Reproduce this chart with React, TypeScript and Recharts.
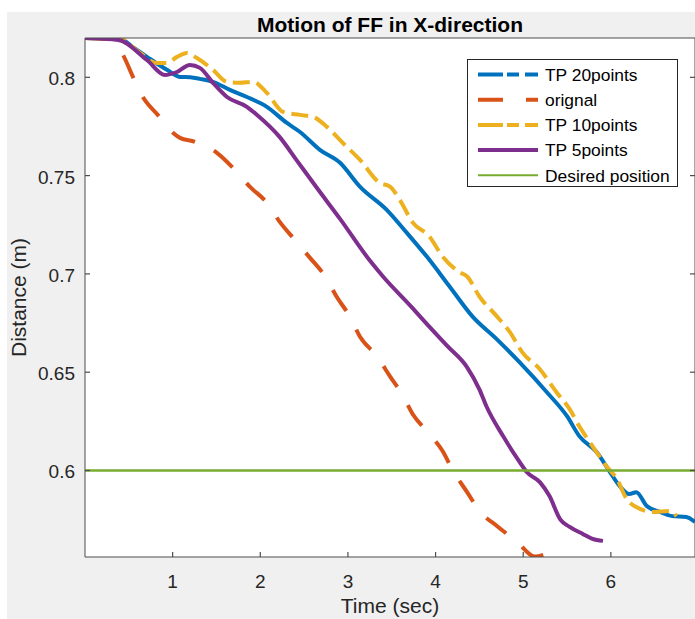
import React from "react";
import { Legend, Line, LineChart, ReferenceLine, XAxis, YAxis } from "recharts";

// time (sec), distance (m)
const tp20points = [
  [0, 0.82], [0.2, 0.8198], [0.4, 0.8195], [0.55, 0.8152], [0.707, 0.8104],
  [0.935, 0.8038], [1.083, 0.8002], [1.2, 0.8], [1.311, 0.7992], [1.46, 0.7977],
  [1.653, 0.7936], [1.847, 0.79], [2.075, 0.785], [2.3, 0.7769], [2.45, 0.7723],
  [2.68, 0.7631], [2.91, 0.7565], [3.136, 0.7444], [3.44, 0.7327], [3.67, 0.721],
  [3.9, 0.7088], [4.16, 0.6936], [4.42, 0.6784], [4.7, 0.6667], [4.96, 0.655],
  [5.27, 0.6398], [5.5, 0.6276], [5.64, 0.6175], [5.84, 0.6093], [5.99, 0.5992],
  [6.1, 0.5921], [6.21, 0.588], [6.29, 0.589], [6.41, 0.5819], [6.56, 0.5789],
  [6.7, 0.5768], [6.86, 0.5763], [6.96, 0.5738],
];

const orignal = [
  [0, 0.82], [0.26, 0.8195], [0.433, 0.8114], [0.547, 0.8002], [0.66, 0.79],
  [0.83, 0.7809], [1.003, 0.7718], [1.083, 0.7692], [1.254, 0.7672], [1.505, 0.7616],
  [1.688, 0.754], [1.88, 0.7444], [2.075, 0.7362], [2.22, 0.7266], [2.39, 0.7175],
  [2.565, 0.7083], [2.74, 0.6987], [2.87, 0.6885], [3.02, 0.6784], [3.136, 0.6682],
  [3.33, 0.6581], [3.48, 0.6479], [3.63, 0.6378], [3.74, 0.6286], [3.91, 0.6195],
  [4.08, 0.6099], [4.2, 0.5997], [4.36, 0.589], [4.5, 0.5794], [4.7, 0.5718],
  [4.93, 0.5637], [5.13, 0.5563], [5.28, 0.5579],
];

const tp10points = [
  [0, 0.82], [0.4, 0.8195], [0.627, 0.8124], [0.82, 0.8073], [0.935, 0.8073],
  [1.05, 0.8104], [1.163, 0.8124], [1.277, 0.8098], [1.46, 0.8038], [1.62, 0.7977],
  [1.767, 0.7972], [1.916, 0.7977], [2.075, 0.7921], [2.26, 0.7824], [2.45, 0.7809],
  [2.6, 0.7799], [2.76, 0.7748], [2.94, 0.7667], [3.136, 0.7581], [3.36, 0.7464],
  [3.48, 0.7444], [3.59, 0.7378], [3.74, 0.7261], [3.93, 0.719], [4.08, 0.7088],
  [4.28, 0.7007], [4.36, 0.6987], [4.5, 0.6885], [4.7, 0.6784], [4.85, 0.6703],
  [4.99, 0.6601], [5.19, 0.6515], [5.38, 0.6398], [5.53, 0.6312], [5.64, 0.6225],
  [5.79, 0.6124], [5.95, 0.6022], [6.07, 0.5956], [6.18, 0.5855], [6.29, 0.5814],
  [6.48, 0.5789], [6.67, 0.5794], [6.75, 0.5768],
];

const tp5points = [
  [0, 0.82], [0.38, 0.819], [0.707, 0.8088], [0.912, 0.8012], [1.049, 0.8027],
  [1.197, 0.8063], [1.311, 0.8048], [1.46, 0.7972], [1.62, 0.79], [1.847, 0.785],
  [1.96, 0.781], [2.22, 0.7697], [2.42, 0.7575], [2.645, 0.7438], [2.91, 0.728],
  [3.25, 0.7068], [3.4, 0.6987], [3.74, 0.6825], [3.85, 0.677], [4.13, 0.6635],
  [4.36, 0.6525], [4.5, 0.6413], [4.58, 0.6327], [4.77, 0.6175], [4.96, 0.6043],
  [5.04, 0.5992], [5.19, 0.5941], [5.3, 0.587], [5.42, 0.5753], [5.53, 0.5713],
  [5.68, 0.5677], [5.79, 0.5652], [5.91, 0.5642],
];

const DESIRED = 0.6;
const X_TICKS = [1, 2, 3, 4, 5, 6];
const Y_TICKS = [0.6, 0.65, 0.7, 0.75, 0.8];
const X_DOMAIN = [0, 6.96];
const Y_DOMAIN = [0.556, 0.82];

const toRows = (pts) => pts.map(([t, d]) => ({ t, d }));

const SERIES = [
  { name: "TP 20points", pts: tp20points, color: "#0072BD", dash: undefined, legendDash: "25 4 12 6 13" },
  { name: "orignal", pts: orignal, color: "#D95319", dash: "25 21", legendDash: "25 23 12" },
  { name: "TP 10points", pts: tp10points, color: "#EDB120", dash: "17 7", legendDash: "25 4 12 6 13" },
  { name: "TP 5points", pts: tp5points, color: "#7E2F8E", dash: undefined, legendDash: undefined },
];

const LEGEND_ITEMS = [
  ...SERIES.map((s) => ({ name: s.name, color: s.color, dash: s.legendDash, width: 4 })),
  { name: "Desired position", color: "#77AC30", dash: undefined, width: 2 },
];

const FONT = "'Liberation Sans', Arial, Helvetica, sans-serif";
const AXIS = "#4d4d4d";
const TEXT = "#262626";
const TICK_LEN = 5;
const X_GAP = 17.5;
const Y_GAP = 10;

// MATLAB-style ticks point into the plot box
const BottomTick = ({ x, y, payload }) => (
  <g>
    <path d={`M${x},${y - X_GAP}V${y - X_GAP - TICK_LEN}`} stroke={AXIS} strokeWidth={1.2} fill="none" />
    <text x={x} y={y} dy="0.71em" textAnchor="middle" fontSize={19} fill={TEXT}>
      {payload.value}
    </text>
  </g>
);

const LeftTick = ({ x, y, payload }) => (
  <g>
    <path d={`M${x + Y_GAP},${y}H${x + Y_GAP + TICK_LEN}`} stroke={AXIS} strokeWidth={1.2} fill="none" />
    <text x={x} y={y} dy="0.42em" textAnchor="end" fontSize={19} fill={TEXT}>
      {payload.value}
    </text>
  </g>
);

const TopTick = ({ x, y }) => (
  <path d={`M${x},${y}V${y + TICK_LEN}`} stroke={AXIS} strokeWidth={1.2} fill="none" />
);

const RightTick = ({ x, y }) => (
  <path d={`M${x},${y}H${x - TICK_LEN}`} stroke={AXIS} strokeWidth={1.2} fill="none" />
);

const LegendBox = () => (
  <div
    style={{
      width: 211,
      height: 128,
      background: "#fff",
      border: "1px solid #262626",
      boxSizing: "border-box",
    }}
  >
    <svg width={209} height={126} style={{ display: "block" }}>
      {LEGEND_ITEMS.map((it, i) => {
        const y = 14.5 + i * 25.2;
        return (
          <g key={it.name}>
            <line x1={10} x2={70} y1={y} y2={y} stroke={it.color} strokeWidth={it.width} strokeDasharray={it.dash} />
            <text x={77} y={y} dy="0.36em" fontSize={17.4} fill="#000">
              {it.name}
            </text>
          </g>
        );
      })}
    </svg>
  </div>
);

const XTitle = ({ viewBox }) => (
  <text x={viewBox.x + viewBox.width / 2} y={viewBox.y + 56} textAnchor="middle" fontSize={21} fill={TEXT}>
    Time (sec)
  </text>
);

const YTitle = ({ viewBox }) => {
  const cx = viewBox.x + 18;
  const cy = viewBox.y + viewBox.height / 2;
  return (
    <text
      x={cx}
      y={cy}
      dy="0.36em"
      transform={`rotate(-90 ${cx} ${cy})`}
      textAnchor="middle"
      fontSize={21}
      fill={TEXT}
    >
      Distance (m)
    </text>
  );
};

export default function App() {
  return (
    <div
      style={{
        position: "absolute",
        left: 0,
        top: 0,
        width: 695,
        height: 619,
        background: "#fff",
        fontFamily: FONT,
        overflow: "hidden",
      }}
    >
      <div style={{ position: "absolute", left: 7, top: 12, right: 0, bottom: 0, background: "#f0f0f0" }} />
      {/* white axes box behind the svg */}
      <div style={{ position: "absolute", left: 85, top: 38, width: 610, height: 519, background: "#fff" }} />
      <div
        style={{
          position: "absolute",
          left: 85,
          top: 12,
          width: 610,
          height: 26,
          textAlign: "center",
          fontWeight: "bold",
          fontSize: 21,
          lineHeight: "26px",
          color: "#000",
        }}
      >
        Motion of FF in X-direction
      </div>
      <div style={{ position: "absolute", left: 0, top: 0 }}>
        <LineChart width={696} height={619} margin={{ top: 37, right: 0, bottom: 0, left: 0 }}>
          <XAxis
            type="number"
            dataKey="t"
            domain={X_DOMAIN}
            ticks={X_TICKS}
            height={62}
            stroke={AXIS}
            tickLine={false}
            tickSize={0}
            tickMargin={X_GAP}
            tick={<BottomTick />}
            label={<XTitle />}
            allowDataOverflow
          />
          <XAxis
            xAxisId="top"
            orientation="top"
            type="number"
            domain={X_DOMAIN}
            ticks={X_TICKS}
            height={1}
            stroke={AXIS}
            tickLine={false}
            tickSize={0}
            tickMargin={0}
            tick={<TopTick />}
            allowDataOverflow
          />
          <YAxis
            type="number"
            domain={Y_DOMAIN}
            ticks={Y_TICKS}
            width={85}
            stroke={AXIS}
            tickLine={false}
            tickSize={0}
            tickMargin={Y_GAP}
            tick={<LeftTick />}
            label={<YTitle />}
            allowDataOverflow
          />
          <YAxis
            yAxisId="right"
            orientation="right"
            type="number"
            domain={Y_DOMAIN}
            ticks={Y_TICKS}
            width={1}
            stroke={AXIS}
            tickLine={false}
            tickSize={0}
            tickMargin={0}
            tick={<RightTick />}
            allowDataOverflow
          />
          {SERIES.map((s) => (
            <Line
              key={s.name}
              name={s.name}
              data={toRows(s.pts)}
              dataKey="d"
              type="monotone"
              stroke={s.color}
              strokeWidth={4}
              strokeDasharray={s.dash}
              dot={false}
              activeDot={false}
              isAnimationActive={false}
            />
          ))}
          <ReferenceLine y={DESIRED} stroke="#77AC30" strokeWidth={2.5} />
          <Legend
            content={<LegendBox />}
            layout="vertical"
            align="center"
            verticalAlign="middle"
            wrapperStyle={{ left: 467, top: 59, width: 211, height: 128 }}
          />
        </LineChart>
      </div>
    </div>
  );
}
